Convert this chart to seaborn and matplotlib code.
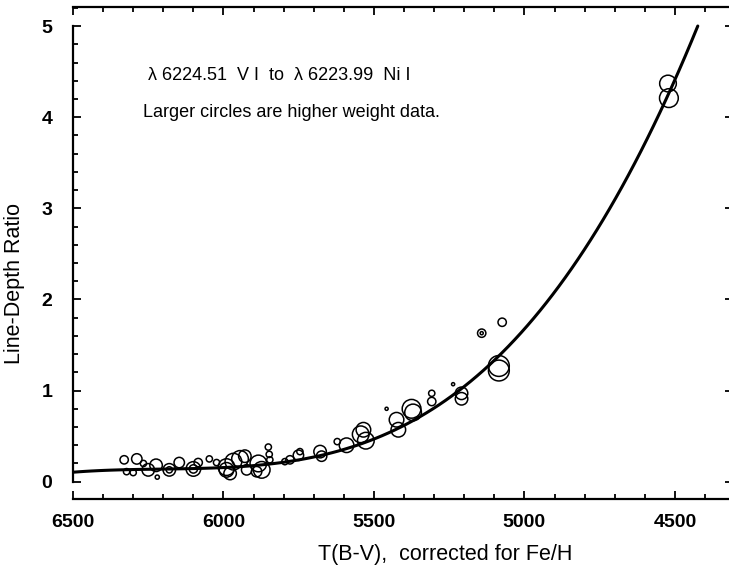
import numpy as np
import pandas as pd
import seaborn as sns
import matplotlib
matplotlib.use("Agg")
import matplotlib.pyplot as plt
from matplotlib.ticker import MultipleLocator

# measured points: temperature, line-depth ratio, weight (drawn as circle radius)
temp = [6330, 6288, 6322, 6300, 6266, 6250, 6224, 6220, 6180, 6180,
        6147, 6100, 6100, 6084, 6047, 6023, 5990, 5990, 5967, 5945,
        5929, 5978, 5923, 5884, 5873, 5890, 5851, 5848, 5846, 5796,
        5779, 5751, 5746, 5679, 5674, 5622, 5591, 5544, 5535, 5527,
        5458, 5425, 5419, 5375, 5370, 5308, 5308, 5237, 5209, 5209,
        5142, 5142, 5074, 5085, 5085, 4523, 4520]
ratio = [0.24, 0.25, 0.11, 0.10, 0.20, 0.13, 0.18, 0.05, 0.13, 0.13,
         0.21, 0.14, 0.14, 0.21, 0.25, 0.21, 0.13, 0.16, 0.22, 0.25,
         0.28, 0.09, 0.13, 0.20, 0.13, 0.11, 0.38, 0.30, 0.24, 0.22,
         0.24, 0.29, 0.33, 0.33, 0.28, 0.44, 0.40, 0.52, 0.57, 0.45,
         0.80, 0.68, 0.57, 0.80, 0.76, 0.97, 0.88, 1.07, 0.97, 0.91,
         1.63, 1.63, 1.75, 1.27, 1.22, 4.37, 4.21]
weight = [4, 5, 3, 3, 3, 6, 6, 2, 6, 3,
          5, 7, 4, 4, 3, 3, 7, 8, 8, 8,
          6, 6, 5, 8, 8, 5, 3, 3, 3, 3,
          4, 5, 3, 6, 5, 3, 7, 8, 7, 8,
          1.5, 7, 7, 9, 8, 3, 4, 1.5, 6, 6,
          4, 1.5, 4, 10, 10, 8, 9]

# fitted relation
curve_t = [6500, 6250, 6000, 5750, 5600, 5500, 5420, 5300, 5200, 5115,
           5000, 4915, 4800, 4700, 4650, 4576, 4520, 4424]
curve_r = [0.10, 0.13, 0.18, 0.25, 0.34, 0.45, 0.57, 0.82, 1.05, 1.30,
           1.65, 2.00, 2.58, 3.12, 3.39, 3.86, 4.27, 4.99]

sns.set_style("ticks")
plt.rcParams['font.family'] = ['Liberation Sans', 'DejaVu Sans']
plt.rcParams['text.color'] = 'black'
plt.rcParams['axes.labelcolor'] = 'black'
plt.rcParams['xtick.color'] = 'black'
plt.rcParams['ytick.color'] = 'black'

df = pd.DataFrame({"T": temp, "ratio": ratio, "weight": weight})
fit = pd.DataFrame({"T": curve_t, "ratio": curve_r})

fig = plt.figure(figsize=(7.29, 5.74), dpi=100)
ax = fig.add_axes([73/729, 75/574, 660/729, 492/574])

# circle area follows radius in pixels
size_map = {w: (1.5*w)**2 for w in set(weight)}
sns.scatterplot(data=df, x="T", y="ratio", size="weight", sizes=size_map,
                marker="o", facecolor="none", edgecolor="black", linewidth=1.1,
                legend=False, ax=ax)
# smooth cubic through the curve readings
sns.regplot(data=fit, x="T", y="ratio", order=3, scatter=False, ci=None,
            color="black", line_kws={"linewidth": 2.2}, ax=ax)

ax.set_xlim(6500, 4307)
ax.set_ylim(-0.19, 5.21)

ax.xaxis.set_major_locator(MultipleLocator(500))
ax.xaxis.set_minor_locator(MultipleLocator(100))
ax.yaxis.set_major_locator(MultipleLocator(1))
ax.yaxis.set_minor_locator(MultipleLocator(0.2))

ax.tick_params(which="both", direction="in", top=True, right=True, width=1.3)
ax.tick_params(which="major", length=6)
ax.tick_params(which="minor", length=3.5)
ax.tick_params(axis="y", which="minor", right=False)
ax.tick_params(axis="x", pad=11, labelsize=14)
ax.tick_params(axis="y", pad=15, labelsize=14)
for lab in ax.get_xticklabels() + ax.get_yticklabels():
    lab.set_fontweight("bold")

for s in ax.spines.values():
    s.set_linewidth(1.6)
    s.set_color("black")
ax.spines["left"].set_bounds(0, 5)

ax.set_xlabel("T(B-V),  corrected for Fe/H", fontsize=15.5)
ax.set_ylabel("Line-Depth Ratio", fontsize=15.5)
ax.xaxis.set_label_coords(0.564, -0.092)
ax.yaxis.set_label_coords(-0.073, 0.439)

ax.text(6251, 4.46, "λ 6224.51  V I  to  λ 6223.99  Ni I", fontsize=13, ha="left", va="center")
ax.text(6267, 4.05, "Larger circles are higher weight data.", fontsize=13, ha="left", va="center")

fig.savefig("out.png", dpi=100)
